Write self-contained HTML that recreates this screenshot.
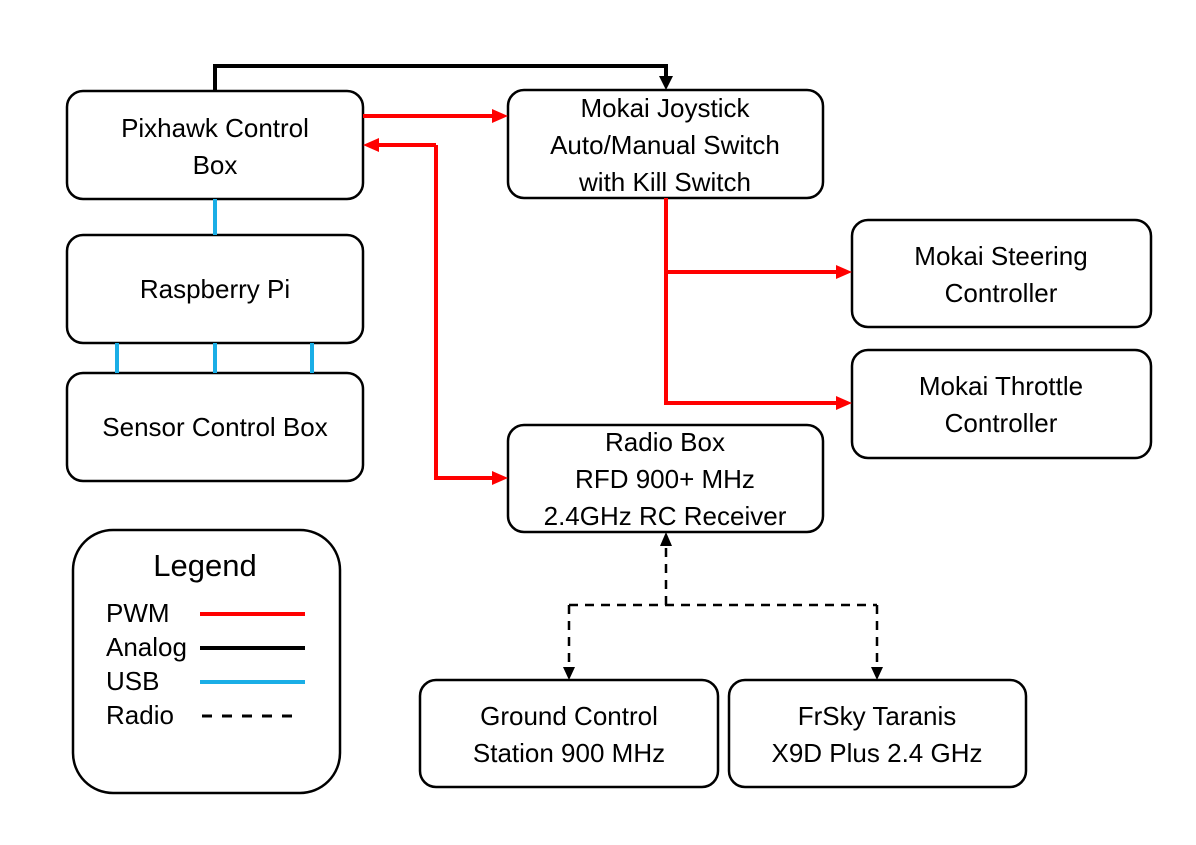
<!DOCTYPE html>
<html><head><style>body{margin:0;background:#fff}svg{display:block}text{font-family:"Liberation Sans",sans-serif;font-size:26px;fill:#000;text-anchor:middle}</style></head><body>
<svg width="1196" height="845" viewBox="0 0 1196 845">
<g fill="#fff" stroke="#000" stroke-width="2.5">
<rect x="67" y="91" width="296" height="108" rx="16"/>
<rect x="67" y="235" width="296" height="108" rx="16"/>
<rect x="67" y="373" width="296" height="108" rx="16"/>
<rect x="508" y="90" width="315" height="108" rx="16"/>
<rect x="852" y="220" width="299" height="107" rx="16"/>
<rect x="852" y="350" width="299" height="108" rx="16"/>
<rect x="508" y="425" width="315" height="107" rx="16"/>
<rect x="420" y="680" width="298" height="107" rx="16"/>
<rect x="729" y="680" width="297" height="107" rx="16"/>
<rect x="73" y="530" width="267" height="263" rx="40"/>
</g>
<g stroke-width="4" fill="none">
<path d="M215,91V66H666V78" stroke="#000"/>
<path d="M363,116H494" stroke="#f00"/>
<path d="M436,145H377" stroke="#f00"/>
<path d="M436,145V478H494" stroke="#f00"/>
<path d="M666,198V272H838" stroke="#f00"/>
<path d="M666,272V403H838" stroke="#f00"/>
<path d="M215,199V235M117,343V373M215,343V373M312,343V373" stroke="#1aaee6"/>
<g stroke="#000" stroke-width="2.5" stroke-dasharray="9,7">
<path d="M666,605V545"/>
<path d="M569,605H877"/>
<path d="M569,605V668"/>
<path d="M877,605V668"/>
</g>
<path d="M200,614H305" stroke="#f00"/>
<path d="M200,648H305" stroke="#000"/>
<path d="M200,682H305" stroke="#1aaee6"/>
<path d="M202,716H298" stroke="#000" stroke-width="3" stroke-dasharray="10,10"/>
</g>
<g fill="#f00">
<polygon points="492,109 508,116 492,123"/>
<polygon points="379,138 363,145 379,152"/>
<polygon points="492,471 508,478 492,485"/>
<polygon points="836,265 852,272 836,279"/>
<polygon points="836,396 852,403 836,410"/>
</g>
<g fill="#000">
<polygon points="659,76 673,76 666,90"/>
<polygon points="660,546 672,546 666,532"/>
<polygon points="563,667 575,667 569,680"/>
<polygon points="871,667 883,667 877,680"/>
</g>
<text x="215" y="137">Pixhawk Control</text><text x="215" y="174">Box</text>
<text x="215" y="298">Raspberry Pi</text>
<text x="215" y="436">Sensor Control Box</text>
<text x="665" y="117">Mokai Joystick</text><text x="665" y="154">Auto/Manual Switch</text><text x="665" y="191">with Kill Switch</text>
<text x="1001" y="265">Mokai Steering</text><text x="1001" y="302">Controller</text>
<text x="1001" y="395">Mokai Throttle</text><text x="1001" y="432">Controller</text>
<text x="665" y="451">Radio Box</text><text x="665" y="488">RFD 900+ MHz</text><text x="665" y="525">2.4GHz RC Receiver</text>
<text x="569" y="725">Ground Control</text><text x="569" y="762">Station 900 MHz</text>
<text x="877" y="725">FrSky Taranis</text><text x="877" y="762">X9D Plus 2.4 GHz</text>
<text x="205" y="576" style="font-size:31px">Legend</text>
<g style="font-size:20px"><text x="106" y="622" style="text-anchor:start">PWM</text><text x="106" y="656" style="text-anchor:start">Analog</text><text x="106" y="690" style="text-anchor:start">USB</text><text x="106" y="724" style="text-anchor:start">Radio</text></g>
</svg>
</body></html>
